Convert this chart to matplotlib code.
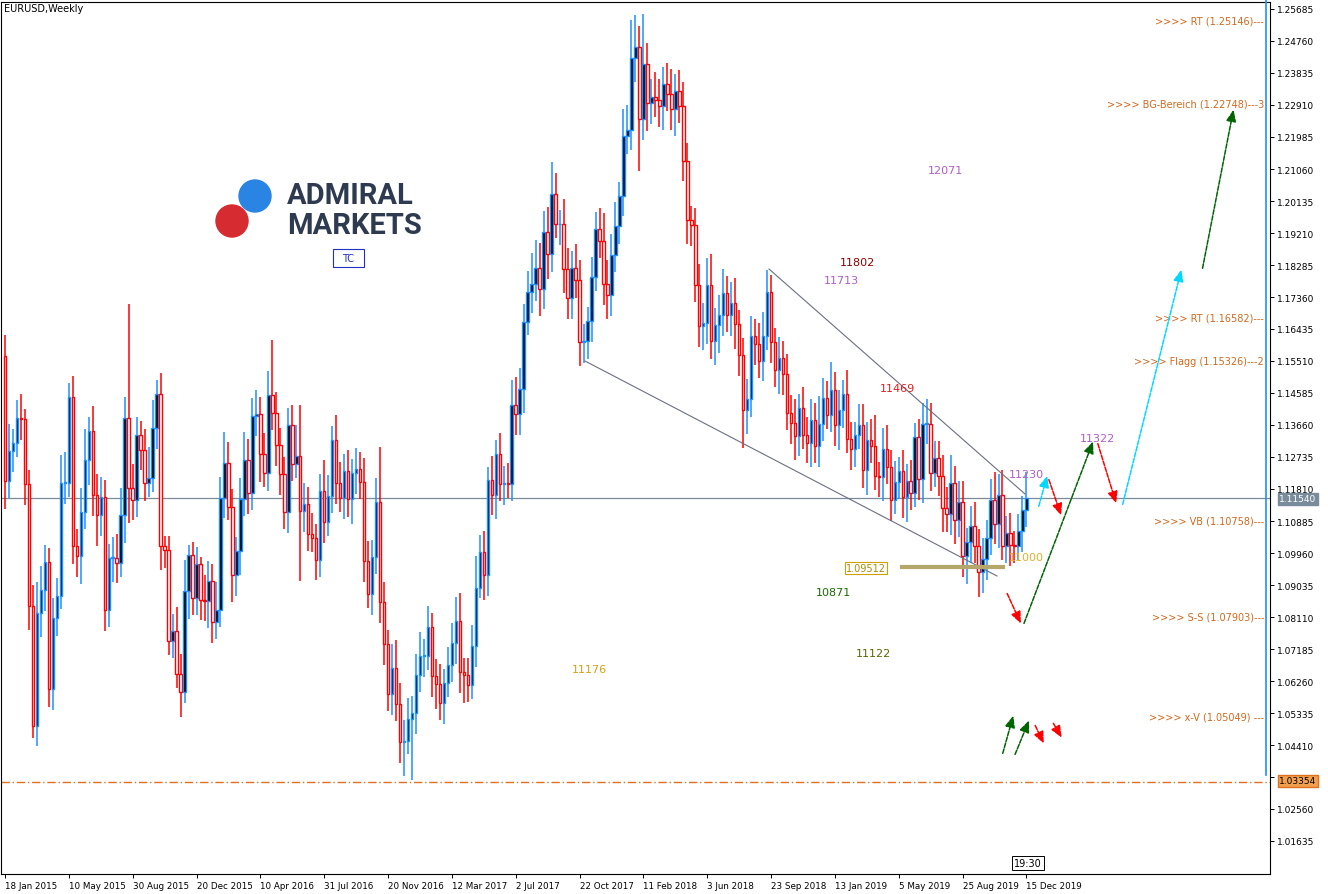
import matplotlib
matplotlib.use("Agg")
import matplotlib.pyplot as plt
from matplotlib.patches import Circle, Rectangle
import numpy as np

first_open = 1.1565
closes = [
 # 2015
 1.1204,1.1290,1.1314,1.1387,1.1383,1.1195,1.0843,1.0497,1.0822,1.0889,1.0970,1.0602,1.0807,1.0873,1.1198,1.1198,1.1448,1.1015,1.0987,1.1114,
 1.1264,1.1350,1.1164,1.1105,1.1157,1.0831,1.0982,1.0982,1.0968,1.1105,1.1387,1.1183,1.1150,1.1338,1.1295,1.1197,1.1212,1.1357,1.1456,1.1016,
 1.1004,1.0742,1.0771,1.0645,1.0593,1.0886,1.0989,1.0866,1.0963,1.0861,
 # 2016
 1.0858,1.0914,1.0797,1.0831,1.1156,1.1257,1.1130,1.0933,1.1002,1.1152,1.1266,1.1170,1.1393,1.1398,1.1282,1.1226,1.1453,1.1402,1.1308,1.1223,
 1.1115,1.1365,1.1254,1.1275,1.1116,1.1137,1.1052,1.1040,1.0977,1.1174,1.1086,1.1162,1.1324,1.1198,1.1154,1.1233,1.1151,1.1227,1.1239,1.1202,
 1.0972,1.0878,1.0985,1.1143,1.0853,1.0732,1.0589,1.0664,1.0559,1.0449,1.0454,1.0517,
 # 2017
 1.0534,1.0643,1.0698,1.0698,1.0782,1.0641,1.0616,1.0562,1.0620,1.0673,1.0735,1.0800,1.0652,1.0643,1.0615,1.0727,1.0896,1.0999,1.0931,1.1206,
 1.1165,1.1282,1.1196,1.1197,1.1196,1.1425,1.1398,1.1470,1.1665,1.1750,1.1773,1.1821,1.1760,1.1925,1.1859,1.2035,1.1946,1.1948,1.1818,1.1732,
 1.1820,1.1784,1.1606,1.1608,1.1667,1.1793,1.1932,1.1899,1.1773,1.1742,1.1858,1.1940,
 # 2018
 1.2029,1.2200,1.2220,1.2427,1.2460,1.2250,1.2409,1.2296,1.2315,1.2306,1.2288,1.2352,1.2324,1.2280,1.2332,1.2288,1.2130,1.1960,1.1943,1.1771,
 1.1652,1.1660,1.1770,1.1608,1.1655,1.1683,1.1747,1.1684,1.1720,1.1657,1.1568,1.1410,1.1440,1.1622,1.1600,1.1552,1.1624,1.1750,1.1605,1.1525,
 1.1560,1.1512,1.1402,1.1372,1.1335,1.1415,1.1338,1.1315,1.1380,1.1305,1.1370,1.1443,1.1395,
 # 2019
 1.1468,1.1365,1.1408,1.1455,1.1325,1.1296,1.1336,1.1366,1.1235,1.1324,1.1305,1.1219,1.1217,1.1297,1.1245,1.1149,1.1201,1.1234,1.1157,1.1204,
 1.1169,1.1332,1.1210,1.1370,1.1370,1.1226,1.1270,1.1220,1.1127,1.1108,1.1198,1.1091,1.1143,1.0987,1.1027,1.1073,1.1016,1.0940,1.0978,1.1040,
 1.1149,1.1081,1.1165,1.1017,1.1053,1.1019,1.1017,1.1060,1.1120,1.1154,
]
# upper / lower wick lengths in pips
up_wick = [int(v) for v in """
60 80 40 50 70 30 40 60 90 70 50 40 60 50 80 90 40 60 50 70 90 40 70 60 60 50 40 60 70 80 60 330 70 50 40 60 90 80 40 60 30 40 50 70 60 90 30 40 50 20
70 60 50 80 60 90 60 50 40 60 80 60 50 70 50 60 70 160 60 50 50 50 60 90 150 60 50 60 40 50 90 60 40 70 60 50 60 40 60 50 70 60 50 70 160 60 40 70 80 60 60 60
50 60 70 50 60 40 50 60 40 50 60 70 80 40 50 60 90 50 60 40 70 40 60 50 60 70 80 60 50 60 90 80 70 60 70 90 60 40 70 60 50 70 60 50 40 60 50 60 80 70 60 70
40 80 70 110 90 60 146 60 50 70 60 50 60 70 50 60 70 50 40 50 60 60 80 90 50 60 70 50 60 70 40 50 60 60 50 60 70 65 50 40 60 50 60 50 70 40 60 50 60 50 80 60 50
80 50 60 40 70 50 40 60 60 50 60 90 40 60 70 50 60 40 60 50 60 40 50 60 70 60 50 50 60 60 80 50 60 60 40 60 70 50 60 50 60 80 60 70 50 60 40 50 40 76
""".split()]
dn_wick = [int(v) for v in """
80 50 60 40 60 60 70 35 60 70 60 50 60 50 40 60 40 50 60 80 50 70 60 90 60 60 50 70 60 40 80 100 60 50 60 50 40 40 60 70 50 40 50 40 70 30 80 50 50 60
60 80 60 50 50 60 40 80 60 70 50 60 50 60 80 40 50 50 60 60 50 60 50 40 200 60 50 40 60 50 60 40 50 60 40 60 50 70 60 50 60 40 60 50 60 60 50 60 50 60 97 40
177 60 50 60 40 60 70 50 60 40 50 60 60 80 50 40 60 30 70 60 60 70 50 60 40 50 60 60 70 40 60 50 80 60 70 50 40 60 70 60 60 50 70 60 50 60 40 50 60 70 60 50
50 60 50 60 70 150 60 80 60 50 60 70 50 60 80 50 60 70 60 50 60 70 60 50 70 80 60 50 60 70 60 110 70 50 60 50 60 40 60 50 70 60 50 60 70 60 40 60 70 50 60 50 40
50 60 70 50 40 60 50 40 50 70 50 40 60 70 50 60 40 50 60 70 50 40 60 70 60 50 40 60 70 50 60 70 50 60 80 60 50 70 60 61 50 60 70 40 50 60 50 40 60 50 40
""".split()]

price_ticks = [1.25685,1.24760,1.23835,1.22910,1.21985,1.21060,1.20135,1.19210,1.18285,1.17360,1.16435,1.15510,
               1.14585,1.13660,1.12735,1.11810,1.10885,1.09960,1.09035,1.08110,1.07185,1.06260,1.05335,1.04410,
               1.03485,1.02560,1.01635]
date_labels = ["18 Jan 2015","10 May 2015","30 Aug 2015","20 Dec 2015","10 Apr 2016","31 Jul 2016","20 Nov 2016",
               "12 Mar 2017","2 Jul 2017","22 Oct 2017","11 Feb 2018","3 Jun 2018","23 Sep 2018","13 Jan 2019",
               "5 May 2019","25 Aug 2019","15 Dec 2019"]
date_weeks = list(range(0, 257, 16))
current_price = 1.11540
support_price = 1.03354

level_labels = [">>>> RT (1.25146)---", ">>>> BG-Bereich (1.22748)---3", ">>>> RT (1.16582)---",
                ">>>> Flagg (1.15326)---2", ">>>> VB (1.10758)---", ">>>> S-S (1.07903)---", ">>>> x-V (1.05049) ---"]
level_y_px = [21, 104, 318, 362, 521, 618, 717]
wave_labels = [("12071", 945, 171, "#b05ccc"), ("11802", 857, 263, "#8b0000"), ("11713", 841, 281, "#b05ccc"),
               ("11469", 897, 389, "#e02020"), ("11322", 1097, 439, "#b05ccc"), ("11230", 1026, 475, "#b05ccc"),
               ("11000", 1026, 558, "#e0b030"), ("10871", 833, 593, "#1a6b00"), ("11122", 873, 654, "#556b00"),
               ("11176", 589, 670, "#d4a017")]

W, H = 1328, 895
fig = plt.figure(figsize=(W/100, H/100), dpi=100)
fig.patch.set_facecolor("white")
axl, axr, axt, axb = 1, 1270, 3, 875
ax = fig.add_axes([axl/W, 1-axb/H, (axr-axl)/W, (axb-axt)/H])
ppx = 0.00925/32
ytop = 1.25685 + (10-axt)*ppx
ybot = 1.25685 - (axb-10)*ppx
ax.set_ylim(ybot, ytop)
wk = 3.99
ax.set_xlim(-(5-axl)/wk, (axr-5)/wk)

n = len(closes)
opens = [first_open] + closes[:-1]
for i in range(n):
    o, c = opens[i], closes[i]
    hi = max(o, c) + up_wick[i]*1e-4
    lo = min(o, c) - dn_wick[i]*1e-4
    bull = c >= o
    col = "#1e90ff" if bull else "#ff0000"
    ax.vlines(i, lo, hi, color=col, lw=1.1, zorder=2)
    ax.bar(i, max(abs(c-o), 0.0002), bottom=min(o, c), width=0.62,
           color="black" if bull else "white", edgecolor=col, lw=1.0, zorder=3)

ax.axhline(current_price, color="#7a8b9c", lw=0.9, zorder=1)
ax.axhline(support_price, color="#e07020", lw=1.0, ls=(0, (6, 2, 1, 2)), zorder=1)
ax.yaxis.tick_right()
ax.set_yticks(price_ticks)
ax.set_yticklabels([f"{v:.5f}" for v in price_ticks], fontsize=6.5)
ax.set_xticks(date_weeks)
ax.set_xticklabels(date_labels, fontsize=6.3, ha="left")
ax.tick_params(length=3, width=0.7, pad=2)
for s in ax.spines.values():
    s.set_linewidth(0.8)

# overlay in pixel coordinates for drawing annotations
ov = fig.add_axes([0, 0, 1, 1], facecolor="none")
ov.set_xlim(0, W); ov.set_ylim(H, 0); ov.axis("off")

ov.text(4, 9, "EURUSD,Weekly", fontsize=7, va="center")
ov.add_patch(Circle((255, 197), 16, color="#2a84e4"))
ov.add_patch(Circle((232, 222), 16, color="#d62b30"))
ov.text(287, 196, "ADMIRAL", fontsize=21, fontweight="bold", color="#2d3a50", va="center", family="Roboto")
ov.text(287, 226, "MARKETS", fontsize=21, fontweight="bold", color="#2d3a50", va="center", family="Roboto")
ov.add_patch(Rectangle((333, 250), 31, 18, fill=False, ec="#2030c0", lw=0.8))
ov.text(348.5, 259, "TC", fontsize=7, color="#2030c0", ha="center", va="center")

for t, x, y, c in wave_labels:
    ov.text(x, y, t, fontsize=8, color=c, ha="center", va="center")
for t, y in zip(level_labels, level_y_px):
    ov.text(1264, y, t, fontsize=7, color="#d2691e", ha="right", va="center")

ov.plot([769, 1025], [270, 495], color="#6a7080", lw=0.8)
ov.plot([585, 997], [362, 577], color="#6a7080", lw=0.8)
ov.plot([902, 1003], [568, 568], color="#b5a76a", lw=3)
ov.text(866, 569, "1.09512", fontsize=7, color="#b08a00", ha="center", va="center",
        bbox=dict(boxstyle="square,pad=0.15", fc="white", ec="#d0a000", lw=0.8))
ov.plot([1266, 1266], [0, 776], color="#1e90ff", lw=1.2)

arrows = [((1006, 592), (1022, 627), "red"), ((1023, 627), (1094, 440), "#006400"),
          ((1097, 442), (1117, 507), "red"), ((1122, 508), (1182, 268), "#00d8ff"),
          ((1202, 272), (1234, 108), "#006400"), ((1048, 478), (1062, 519), "red"),
          ((1038, 510), (1048, 474), "#00d8ff"), ((1002, 757), (1014, 714), "#006400"),
          ((1014, 758), (1030, 719), "#006400"), ((1034, 724), (1045, 747), "red"),
          ((1052, 722), (1063, 741), "red")]
for (x0, y0), (x1, y1), c in arrows:
    ov.annotate("", xy=(x1, y1), xytext=(x0, y0),
                arrowprops=dict(arrowstyle="-|>,head_length=0.7,head_width=0.3", color=c, lw=1.1, ls=(0, (3, 1))))

ov.text(1298, 500, f"{current_price:.5f}", fontsize=6.5, color="white", ha="center", va="center",
        bbox=dict(boxstyle="square,pad=0.2", fc="#7a8b9c", ec="#7a8b9c"))
ov.text(1298, 782, f"{support_price:.5f}", fontsize=6.5, color="black", ha="center", va="center",
        bbox=dict(boxstyle="square,pad=0.2", fc="#f0a050", ec="#e07020"))
ov.text(1028, 864, "19:30", fontsize=7, ha="center", va="center",
        bbox=dict(boxstyle="square,pad=0.2", fc="white", ec="black", lw=0.7))

fig.savefig("out.png", dpi=100)
